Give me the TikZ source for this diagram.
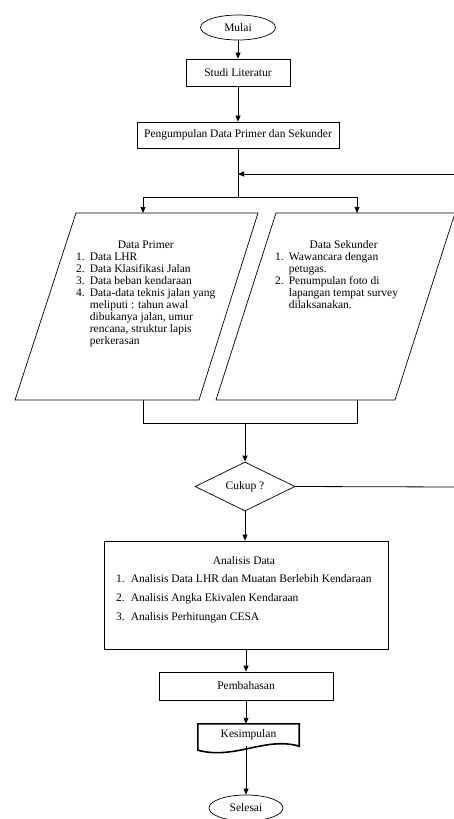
\documentclass[tikz,border=0pt]{standalone}
\usepackage{fontspec}
\setmainfont{Liberation Serif}
\usetikzlibrary{shapes.geometric,arrows.meta}

\tikzset{
  kotak/.style={draw,rectangle,line width=0.7pt,inner sep=0pt},
  panah/.style={thick,-{Triangle[length=6pt,width=5pt]}},
  garis/.style={line width=0.7pt,line join=miter}
}

\begin{document}
\begin{tikzpicture}[x=1pt,y=-1pt,font=\fontsize{11.5}{12}\selectfont]
	\useasboundingbox (0,0) rectangle (454,819);

	\node[draw,line width=0.7pt,ellipse,minimum width=75,minimum height=25,inner sep=0pt] (mulai) at (238,27.5) {Mulai};
	\node[kotak,minimum width=104,minimum height=27] (studi) at (238,72.5) {Studi Literatur};
	\node[kotak,minimum width=202,minimum height=26] (kumpul) at (238,135) {Pengumpulan Data Primer dan Sekunder};

	% jajaran genjang data primer dan sekunder
	\draw[garis] (76,213) -- (258,213) -- (199,400) -- (15,400) -- cycle;
	\draw[garis] (276,213) -- (455,213) -- (395,400) -- (216,400) -- cycle;

	\node[anchor=north west,inner sep=0pt] (primer) at (76,240) {%
		\begin{tabular}{@{}l@{\hspace{5pt}}l@{}}
		\multicolumn{2}{c}{Data Primer}\\
		1. & Data LHR\\
		2. & Data Klasifikasi Jalan\\
		3. & Data beban kendaraan\\
		4. & Data-data teknis jalan yang\\
		   & meliputi : tahun awal\\
		   & dibukanya jalan, umur\\
		   & rencana, struktur lapis\\
		   & perkerasan
		\end{tabular}};
	\node[anchor=north west,inner sep=0pt] (sekunder) at (275,240) {%
		\begin{tabular}{@{}l@{\hspace{5pt}}l@{}}
		\multicolumn{2}{c}{\hspace{14pt}Data Sekunder}\\
		1. & Wawancara dengan\\
		   & petugas.\\
		2. & Penumpulan foto di\\
		   & lapangan tempat survey\\
		   & dilaksanakan.
		\end{tabular}};

	\node[draw,line width=0.7pt,diamond,aspect=2,minimum width=100,minimum height=49,inner sep=0pt] (cukup) at (245,486.5) {Cukup ?};

	\node[kotak,minimum width=284,minimum height=108] (analisis) at (246,595) {};
	\node[anchor=north west,inner sep=0pt] (analisisteks) at (116,551) {%
		\renewcommand{\arraystretch}{1.55}%
		\begin{tabular}{@{}l@{\hspace{6pt}}l@{}}
		\multicolumn{2}{c}{Analisis Data}\\
		1. & Analisis Data LHR dan Muatan Berlebih Kendaraan\\
		2. & Analisis Angka Ekivalen Kendaraan\\
		3. & Analisis Perhitungan CESA
		\end{tabular}};

	\node[kotak,minimum width=174,minimum height=28] (bahas) at (246,686) {Pembahasan};
	\node[minimum width=101,minimum height=22,inner sep=0pt] (simpul) at (248.5,735) {Kesimpulan};
	\draw[line width=1.6pt,line join=miter] (simpul.north west) -- (simpul.north east) -- (simpul.south east)
		.. controls +(-34,-10) and +(37,10) .. ([yshift=-4pt]simpul.south west) -- cycle;
	\node[draw,line width=0.7pt,ellipse,minimum width=74,minimum height=26,inner sep=0pt] (selesai) at (246,808) {Selesai};

	% titik bantu
	\coordinate (cabang) at (238,197);
	\coordinate (kiri) at (143,197);
	\coordinate (kanan) at (357,197);
	\coordinate (primerN) at (143,213);
	\coordinate (primerS) at (143,400);
	\coordinate (sekunderN) at (357,213);
	\coordinate (sekunderS) at (357,400);
	\coordinate (gabung) at (245,423);
	\coordinate (balikA) at (458,487);
	\coordinate (balikB) at (458,174);

	\draw[panah] (mulai) -- (studi);
	\draw[panah] (studi) -- (kumpul);
	\draw[thick] (kumpul) -- (cabang);
	\draw[thick] (kiri) -- (kanan);
	\draw[panah] (kiri) -- (primerN);
	\draw[panah] (kanan) -- (sekunderN);
	\draw[thick] (primerS) -- (kiri |- gabung) -- (kanan |- gabung) -- (sekunderS);
	\draw[panah] (gabung) -- (gabung |- cukup.north);
	\draw[thick] (cukup.east) -- (balikA) -- (balikB);
	\draw[panah] (balikB) -- (balikB -| kumpul);
	\draw[panah] (cukup) -- (cukup |- analisis.north);
	\draw[panah] (analisis.south -| bahas) -- (bahas);
	\draw[panah] (bahas) -- (bahas |- simpul.north);
	\draw[panah] (bahas |- simpul.south) -- (selesai);
\end{tikzpicture}
\end{document}
